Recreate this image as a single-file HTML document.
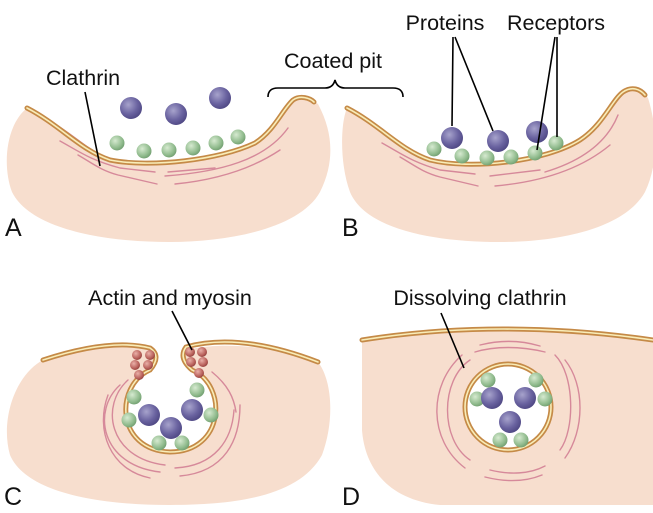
<!DOCTYPE html>
<html><head><meta charset="utf-8"><style>
html,body{margin:0;padding:0;background:#fff;}
svg{display:block;font-family:"Liberation Sans",Arial,sans-serif;}
.lab{font-size:21.5px;fill:#111;}
.big{font-size:25px;fill:#111;}
.mo{fill:none;stroke:#c58a47;stroke-width:5;stroke-linecap:round;}
.mi{fill:none;stroke:#f9edb8;stroke-width:1.6;stroke-linecap:round;}
.cl{fill:none;stroke:#d6899a;stroke-width:1.4;stroke-linecap:round;}
.ln{stroke:#000;stroke-width:1.6;fill:none;}
</style></head><body>
<svg width="653" height="513" viewBox="0 0 653 513">
<defs>
<radialGradient id="gp" cx="0.38" cy="0.35" r="0.7"><stop offset="0" stop-color="#a7a3cc"/><stop offset="0.6" stop-color="#6a63a0"/><stop offset="1" stop-color="#4d4682"/></radialGradient>
<radialGradient id="gg" cx="0.38" cy="0.35" r="0.7"><stop offset="0" stop-color="#d6ead0"/><stop offset="0.7" stop-color="#8fba8c"/><stop offset="1" stop-color="#6f9c6e"/></radialGradient>
<radialGradient id="gr" cx="0.38" cy="0.35" r="0.7"><stop offset="0" stop-color="#eab0a8"/><stop offset="0.7" stop-color="#b8605a"/><stop offset="1" stop-color="#8e3e3a"/></radialGradient>
</defs>

<!-- Panel A -->
<g>
<path fill="#f7dece" d="M27,108 C60,125 80,150 110,160 C150,168 220,160 255,143 C275,130 282,110 293,100 C300,95 310,98 318,104 C332,130 336,160 320,192 C300,228 230,242 170,242 C100,242 30,228 12,192 C2,165 6,125 27,108 Z"/>
<g>
<path class="cl" d="M58,126 C80,140 90,152 112,160"/>
<path class="cl" d="M60,141 C80,152 90,160 120,168 L155,172"/>
<path class="cl" d="M78,155 C92,163 100,170 118,175 L157,184"/>
<path class="cl" d="M168,172 L215,168"/>
<path class="cl" d="M175,184 C215,180 250,170 280,150"/>
<path class="cl" d="M165,176 C220,172 265,160 288,128"/>
</g>
<path class="mo" d="M27,108 C60,125 80,150 110,160 C150,168 220,160 255,143 C275,130 282,110 293,100 C300,95 310,98 314,102"/>
<path class="mi" d="M27,108 C60,125 80,150 110,160 C150,168 220,160 255,143 C275,130 282,110 293,100 C300,95 310,98 314,102"/>
<g>
<circle cx="131" cy="108" r="11" fill="url(#gp)"/><circle cx="176" cy="114" r="11" fill="url(#gp)"/><circle cx="220" cy="98" r="11" fill="url(#gp)"/>
</g>
<g>
<circle cx="117" cy="143" r="7.5" fill="url(#gg)"/><circle cx="144" cy="151" r="7.5" fill="url(#gg)"/><circle cx="169" cy="150" r="7.5" fill="url(#gg)"/><circle cx="193" cy="148" r="7.5" fill="url(#gg)"/><circle cx="216" cy="143" r="7.5" fill="url(#gg)"/><circle cx="238" cy="137" r="7.5" fill="url(#gg)"/>
</g>
<text class="lab" x="46" y="85">Clathrin</text>
<line class="ln" x1="85" y1="92" x2="100" y2="166"/>
<text class="big" x="5" y="236">A</text>
</g>

<!-- Coated pit -->
<text class="lab" x="333" y="68" text-anchor="middle">Coated pit</text>
<path class="ln" d="M268,97 Q268,88 278,88 L325,88 Q333,88 335,80 Q337,88 345,88 L393,88 Q403,88 403,97"/>

<!-- Panel B -->
<g>
<path fill="#f7dece" d="M347,108 C380,125 400,150 430,160 C470,170 545,162 580,140 C603,125 612,100 623,92 C632,86 642,90 648,98 C658,130 658,165 645,192 C625,228 560,242 500,242 C430,242 365,228 350,192 C340,165 340,125 347,108 Z"/>
<g>
<path class="cl" d="M380,128 C400,142 410,152 432,160"/>
<path class="cl" d="M382,143 C402,154 412,162 440,170 L475,174"/>
<path class="cl" d="M400,157 C414,165 422,172 440,177 L478,186"/>
<path class="cl" d="M490,176 L540,170"/>
<path class="cl" d="M495,186 C540,182 580,170 610,145"/>
<path class="cl" d="M545,172 C585,160 608,140 618,115"/>
</g>
<path class="mo" d="M347,108 C380,125 400,150 430,160 C470,170 545,162 580,140 C603,125 612,100 623,92 C632,86 640,89 645,95"/>
<path class="mi" d="M347,108 C380,125 400,150 430,160 C470,170 545,162 580,140 C603,125 612,100 623,92 C632,86 640,89 645,95"/>
<g>
<circle cx="452" cy="138" r="11" fill="url(#gp)"/><circle cx="498" cy="141" r="11" fill="url(#gp)"/><circle cx="537" cy="132" r="11" fill="url(#gp)"/>
</g>
<g>
<circle cx="434" cy="149" r="7.5" fill="url(#gg)"/><circle cx="462" cy="156" r="7.5" fill="url(#gg)"/><circle cx="487" cy="158" r="7.5" fill="url(#gg)"/><circle cx="511" cy="157" r="7.5" fill="url(#gg)"/><circle cx="535" cy="153" r="7.5" fill="url(#gg)"/><circle cx="556" cy="143" r="7.5" fill="url(#gg)"/>
</g>
<text class="lab" x="445" y="30" text-anchor="middle">Proteins</text>
<text class="lab" x="556" y="30" text-anchor="middle">Receptors</text>
<path class="ln" d="M453,37 L452,126 M455,37 L493,131"/>
<path class="ln" d="M555,37 L537,150 M557,37 L557,137"/>
<text class="big" x="342" y="236">B</text>
</g>

<!-- Panel C -->
<g>
<path fill="#f7dece" d="M43,360 C90,345 130,340 150,348 C165,358 165,360 175,355 C190,345 250,338 318,362 C332,380 335,420 322,455 C300,495 240,505 170,505 C90,505 25,490 10,455 C0,420 15,375 43,360 Z"/>
<path fill="#fff" d="M150,370 C115,385 115,450 170,452 C225,452 228,385 192,370 Q178,358 186,347 L150,348 Q162,356 150,370 Z"/>
<g>
<path class="cl" d="M128,380 C100,405 108,458 165,465"/>
<path class="cl" d="M120,385 C92,410 100,465 160,472"/>
<path class="cl" d="M108,395 C95,430 110,470 150,478"/>
<path class="cl" d="M175,468 C215,466 232,440 234,410"/>
<path class="cl" d="M180,476 C225,472 240,440 240,405"/>
<path class="cl" d="M212,372 C228,385 234,398 236,412"/>
</g>
<path class="mo" d="M43,360 Q110,338 150,348 Q162,356 150,370 C115,385 115,450 170,452 C225,452 228,385 192,370 Q178,358 186,347 Q240,332 318,362"/>
<path class="mi" d="M43,360 Q110,338 150,348 Q162,356 150,370 C115,385 115,450 170,452 C225,452 228,385 192,370 Q178,358 186,347 Q240,332 318,362"/>
<g>
<circle cx="137" cy="355" r="5" fill="url(#gr)"/><circle cx="150" cy="355" r="5" fill="url(#gr)"/><circle cx="135" cy="365" r="5" fill="url(#gr)"/><circle cx="148" cy="365" r="5" fill="url(#gr)"/><circle cx="139" cy="375" r="5" fill="url(#gr)"/>
<circle cx="190" cy="352" r="5" fill="url(#gr)"/><circle cx="202" cy="352" r="5" fill="url(#gr)"/><circle cx="191" cy="362" r="5" fill="url(#gr)"/><circle cx="203" cy="362" r="5" fill="url(#gr)"/><circle cx="199" cy="373" r="5" fill="url(#gr)"/>
</g>
<circle cx="134" cy="397" r="7.5" fill="url(#gg)"/><circle cx="129" cy="420" r="7.5" fill="url(#gg)"/><circle cx="197" cy="390" r="7.5" fill="url(#gg)"/><circle cx="211" cy="415" r="7.5" fill="url(#gg)"/><circle cx="159" cy="443" r="7.5" fill="url(#gg)"/><circle cx="182" cy="443" r="7.5" fill="url(#gg)"/>
<circle cx="149" cy="415" r="11" fill="url(#gp)"/><circle cx="192" cy="410" r="11" fill="url(#gp)"/><circle cx="171" cy="428" r="11" fill="url(#gp)"/>
<text class="lab" x="170" y="305" text-anchor="middle">Actin and myosin</text>
<line class="ln" x1="172" y1="311" x2="192" y2="350"/>
<text class="big" x="4" y="505">C</text>
</g>

<!-- Panel D -->
<g>
<path fill="#f7dece" d="M362,340 Q500,322 653,340 L653,505 L440,505 C390,500 365,470 362,430 Z"/>
<g>
<path class="cl" d="M470,360 C440,380 440,440 470,460"/>
<path class="cl" d="M462,355 C428,385 428,440 465,468"/>
<path class="cl" d="M480,345 C500,340 520,340 540,346"/>
<path class="cl" d="M555,355 C575,375 575,430 560,450"/>
<path class="cl" d="M565,360 C585,385 585,430 565,458"/>
<path class="cl" d="M490,470 C510,475 530,474 545,466"/>
<path class="cl" d="M485,477 C505,482 525,482 542,475"/>
<path class="cl" d="M475,352 C495,346 520,346 545,352"/>
</g>
<path class="mo" d="M362,340 Q500,318 653,340"/>
<path class="mi" d="M362,340 Q500,318 653,340"/>
<circle cx="508" cy="407" r="43" fill="#fff" stroke="#c58a47" stroke-width="5"/>
<circle cx="508" cy="407" r="43" fill="none" stroke="#f9edb8" stroke-width="1.6"/>
<circle cx="488" cy="380" r="7.5" fill="url(#gg)"/><circle cx="536" cy="380" r="7.5" fill="url(#gg)"/><circle cx="477" cy="399" r="7.5" fill="url(#gg)"/><circle cx="545" cy="399" r="7.5" fill="url(#gg)"/><circle cx="500" cy="440" r="7.5" fill="url(#gg)"/><circle cx="521" cy="440" r="7.5" fill="url(#gg)"/>
<circle cx="492" cy="398" r="11" fill="url(#gp)"/><circle cx="525" cy="398" r="11" fill="url(#gp)"/><circle cx="510" cy="422" r="11" fill="url(#gp)"/>
<text class="lab" x="480" y="305" text-anchor="middle">Dissolving clathrin</text>
<line class="ln" x1="441" y1="313" x2="464" y2="368"/>
<text class="big" x="342" y="505">D</text>
</g>
</svg>
</body></html>
